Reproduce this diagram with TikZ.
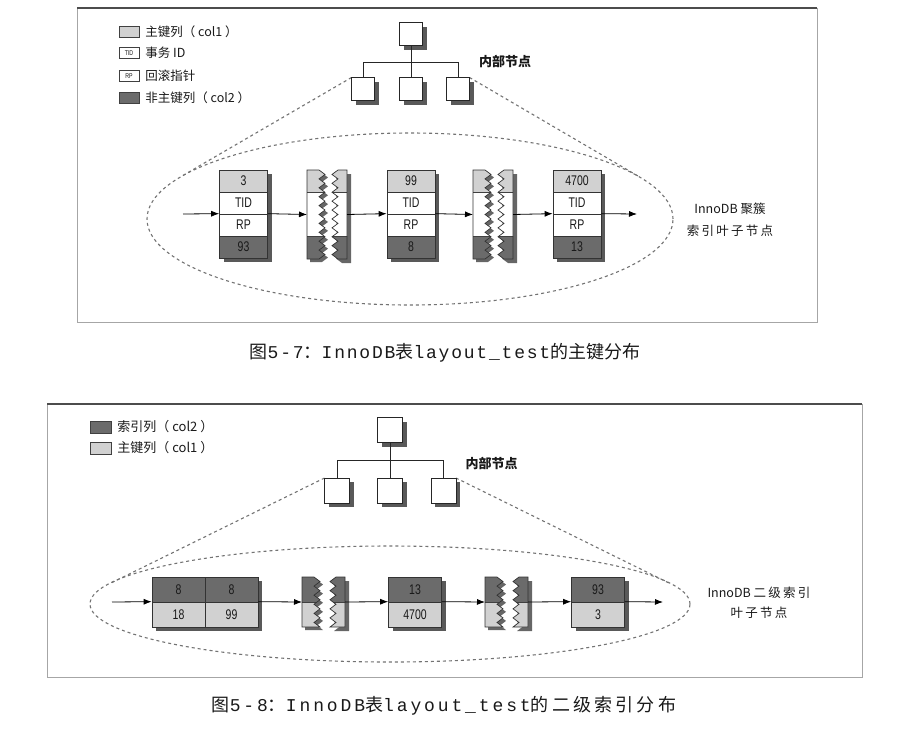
\documentclass[tikz,border=0pt]{standalone}
\usepackage{fontspec}
\setmainfont{Noto Sans CJK SC}
\newfontfamily\cond{Liberation Sans}[FakeStretch=0.75]
\newfontfamily\capmono{Liberation Mono}[LetterSpace=10]
\newfontfamily\capmonow{Liberation Mono}[LetterSpace=16]
\newfontfamily\widecjk{Noto Sans CJK SC}[LetterSpace=18]
\usetikzlibrary{arrows.meta,shadows,positioning}
\colorlet{keygray}{black!18}
\colorlet{colgray}{black!58}
\begin{document}
\begin{tikzpicture}[x=1pt, y=-1pt,
    every node/.style={inner sep=0pt, text=black!90},
    dropshade/.style={drop shadow={shadow xshift=4pt, shadow yshift=-4pt, fill=black!65, opacity=1}},
    cell/.style={draw=black!80, line width=0.7pt, fill=white, dropshade, minimum width=48pt, minimum height=22pt, font=\cond\fontsize{14}{14}\selectfont},
    bcell/.style={cell, minimum width=53pt, minimum height=25pt},
    inode/.style={draw=black!85, line width=0.8pt, fill=white, dropshade, minimum size=23pt},
    legkey/.style={draw=black!75, minimum width=20pt, minimum height=11pt, font=\cond\fontsize{7}{7}\selectfont},
    legend/.style={font=\fontsize{12.5}{13}\selectfont},
    note/.style={align=center, font=\fontsize{12.5}{22}\selectfont},
    caption/.style={font=\fontsize{18}{18}\selectfont},
    link/.style={-{Latex[length=8pt,width=6pt]}, black, line width=0.8pt},
    funnel/.style={black!55, line width=1.1pt, dash pattern=on 3pt off 3pt},
    % #1 height, #2 and #3 band borders, #4 top colour, #5 bottom colour
    pics/tornleft/.style n args={5}{code={
      \pgfmathtruncatemacro\nseg{round(#1/4.5)}
      \pgfmathsetmacro\dy{#1/\nseg}
      \def\rim{(0,0) -- (12,0) \foreach \i in {1,...,\nseg} { -- ({12+6*mod(\i,2)},{\i*\dy}) } -- (0,#1) -- cycle}
      \fill[black!60, shift={(3,3)}] \rim;
      \begin{scope}
        \clip \rim;
        \fill[#4] (-1,-1) rectangle (20,#2);
        \fill[white] (-1,#2) rectangle (20,#3);
        \fill[#5] (-1,#3) rectangle (20,#1+1);
        \draw[black!75] (-1,#2) -- (20,#2) (-1,#3) -- (20,#3);
      \end{scope}
      \draw[black!80, line width=0.7pt] \rim;
      \coordinate (-in) at (0,#1/2);
    }},
    pics/tornright/.style n args={5}{code={
      \pgfmathtruncatemacro\nseg{round(#1/4.5)}
      \pgfmathsetmacro\dy{#1/\nseg}
      \def\rim{(6,0) \foreach \i in {1,...,\nseg} { -- ({6-6*mod(\i,2)},{\i*\dy}) } -- (15,#1) -- (15,0) -- cycle}
      \fill[black!60, shift={(4,4)}] \rim;
      \begin{scope}
        \clip \rim;
        \fill[#4] (-1,-1) rectangle (20,#2);
        \fill[white] (-1,#2) rectangle (20,#3);
        \fill[#5] (-1,#3) rectangle (20,#1+1);
        \draw[black!75] (-1,#2) -- (20,#2) (-1,#3) -- (20,#3);
      \end{scope}
      \draw[black!80, line width=0.7pt] \rim;
      \coordinate (-out) at (15,#1/2);
    }}]
  \useasboundingbox (0,0) rectangle (899,732);

  % frames
  \draw[black!35] (77,8) rectangle (817,322);
  \draw[black!70, line width=1.2pt] (77,8) -- (817,8);
  \draw[black!35] (47,404) rectangle (862,677);
  \draw[black!70, line width=1.2pt] (47,404) -- (862,404);

  % ---- figure 5-7 ----
  \node[legkey, fill=keygray] (k1) at (129,32) {};
  \node[legkey] (k2) at (129,53) {TID};
  \node[legkey] (k3) at (129,76) {RP};
  \node[legkey, fill=colgray] (k4) at (129,98) {};
  \node[legend, right=6pt of k1] {主键列（ col1 ）};
  \node[legend, right=6pt of k2] {事务 ID};
  \node[legend, right=6pt of k3] {回滚指针};
  \node[legend, right=6pt of k4] {非主键列（ col2 ）};

  \coordinate (tl1) at (182,176);
  \coordinate (tr1) at (638,176);
  \draw[funnel] (410,219) ellipse [x radius=263pt, y radius=86pt];
  \draw[funnel] (351.5,77.5) -- (tl1);
  \draw[funnel] (469.5,77.5) -- (tr1);

  \node[inode] (r1) at (411,34) {};
  \node[inode] (c11) at (363,89) {};
  \node[inode] (c12) at (411,89) {};
  \node[inode] (c13) at (458,89) {};
  \coordinate (j1) at (411,62);
  \draw[black!85] (r1) -- (j1);
  \foreach \c in {c11,c12,c13}
    \draw[black!85] (\c.north) |- (j1);
  \node[font=\bfseries\fontsize{13}{13}\selectfont] (n1) at (505,62) {内部节点};

  \node[cell, fill=keygray] (a1) at (243.5,181) {3};
  \node[cell] (a2) at (243.5,203) {TID};
  \node[cell] (a3) at (243.5,225) {RP};
  \node[cell, fill=colgray] (a4) at (243.5,247) {93};
  \node[cell, fill=keygray] (b1) at (411,181) {99};
  \node[cell] (b2) at (411,203) {TID};
  \node[cell] (b3) at (411,225) {RP};
  \node[cell, fill=colgray] (b4) at (411,247) {8};
  \node[cell, fill=keygray] (c1) at (577,181) {4700};
  \node[cell] (c2) at (577,203) {TID};
  \node[cell] (c3) at (577,225) {RP};
  \node[cell, fill=colgray] (c4) at (577,247) {13};

  \pic (p1) at (307,170) {tornleft={89}{22}{66}{keygray}{colgray}};
  \pic (p2) at (332,170) {tornright={89}{22}{66}{keygray}{colgray}};
  \pic (p3) at (473,170) {tornleft={89}{22}{66}{keygray}{colgray}};
  \pic (p4) at (498,170) {tornright={89}{22}{66}{keygray}{colgray}};

  \coordinate (s1) at (183,214);
  \coordinate (e1) at (637,214);
  \foreach \source/\dest in {s1/a3.north west, a3.north east/p1-in, p2-out/b3.north west,
      b3.north east/p3-in, p4-out/c3.north west, c3.north east/e1}
    \draw[link] (\source) -- (\dest);

  \node[note] (n2) at (730,220) {InnoDB 聚簇\\{\widecjk 索引叶子节点}};

  \node[caption] (cap1) at (445,353) {图{\capmono 5-7}：{\capmono InnoDB}表{\capmono layout\_test}的主键分布};

  % ---- figure 5-8 ----
  \node[legkey, minimum width=21pt, minimum height=12pt, fill=colgray] (k5) at (100.5,427) {};
  \node[legkey, minimum width=21pt, minimum height=12pt, fill=keygray] (k6) at (100.5,448) {};
  \node[legend, font=\fontsize{13}{13}\selectfont, right=6pt of k5] {索引列（ col2 ）};
  \node[legend, font=\fontsize{13}{13}\selectfont, right=6pt of k6] {主键列（ col1 ）};

  \coordinate (tl2) at (111,583);
  \coordinate (tr2) at (669,583);
  \draw[funnel] (390,604) ellipse [x radius=300pt, y radius=58pt];
  \draw[funnel] (324.5,478) -- (tl2);
  \draw[funnel] (456,478) -- (tr2);

  \node[inode, minimum size=25pt] (r2) at (390,430) {};
  \node[inode, minimum size=25pt] (c21) at (337,490.5) {};
  \node[inode, minimum size=25pt] (c22) at (390,490.5) {};
  \node[inode, minimum size=25pt] (c23) at (443.5,490.5) {};
  \coordinate (j2) at (390,460);
  \draw[black!85] (r2) -- (j2);
  \foreach \c in {c21,c22,c23}
    \draw[black!85] (\c.north) |- (j2);
  \node[font=\bfseries\fontsize{13}{13}\selectfont] (n3) at (491.5,463) {内部节点};

  \node[bcell, fill=colgray] (d1) at (178.5,589.5) {8};
  \node[bcell, fill=colgray] (d2) at (231.5,589.5) {8};
  \node[bcell, fill=keygray] (d3) at (178.5,614.5) {18};
  \node[bcell, fill=keygray] (d4) at (231.5,614.5) {99};
  \node[bcell, fill=colgray] (e1b) at (415,589.5) {13};
  \node[bcell, fill=keygray] (e2b) at (415,614.5) {4700};
  \node[bcell, fill=colgray] (f1) at (598,589.5) {93};
  \node[bcell, fill=keygray] (f2) at (598,614.5) {3};

  \pic (p5) at (302,577) {tornleft={50}{25}{25}{colgray}{keygray}};
  \pic (p6) at (330,577) {tornright={50}{25}{25}{colgray}{keygray}};
  \pic (p7) at (485,577) {tornleft={50}{25}{25}{colgray}{keygray}};
  \pic (p8) at (513,577) {tornright={50}{25}{25}{colgray}{keygray}};

  \coordinate (s2) at (112,602);
  \coordinate (e2) at (663,602);
  \foreach \source/\dest in {s2/d3.north west, d4.north east/p5-in, p6-out/e2b.north west,
      e2b.north east/p7-in, p8-out/f2.north west, f2.north east/e2}
    \draw[link] (\source) -- (\dest);

  \node[note, font=\fontsize{12.5}{20}\selectfont] (n4) at (759,603) {InnoDB {\widecjk 二级索引}\\{\widecjk 叶子节点}};

  \node[caption, font={\widecjk\fontsize{18}{18}\selectfont}] (cap2) at (444,706) {图{\capmonow 5-8}：{\capmonow InnoDB}表{\capmonow layout\_test}的二级索引分布};
\end{tikzpicture}
\end{document}
